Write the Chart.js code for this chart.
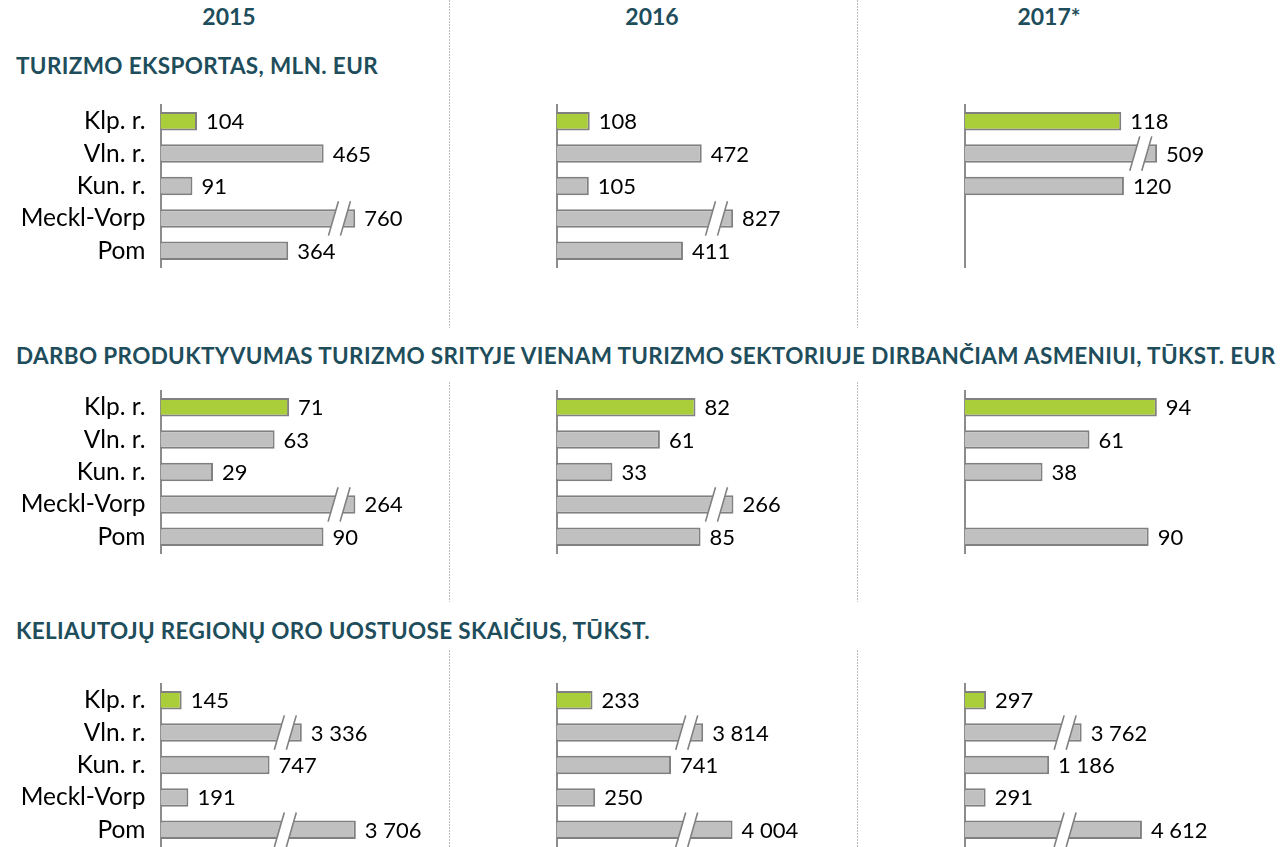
<!DOCTYPE html>
<html lang="lt">
<head>
<meta charset="utf-8">
<title>Turizmo rodikliai</title>
<script src="https://cdn.jsdelivr.net/npm/chart.js@4.4.1/dist/chart.umd.min.js"></script>
<style>
  html, body { margin: 0; background: #fff; }
  #page { position: relative; width: 1281px; height: 847px; overflow: hidden; font-family: Lato, "Open Sans", sans-serif; }
  .year, .title { position: absolute; color: #1e4d5b; font-weight: bold; white-space: nowrap; line-height: 1; }
  .year { font-size: 23px; transform: translateX(-50%); }
  .title { font-size: 22.5px; letter-spacing: 0.35px; left: 16px; }
  .sep { position: absolute; width: 1px; background: repeating-linear-gradient(to bottom, #bdbdbd 0 2px, transparent 2px 3px); }
  canvas { position: absolute; }
</style>
</head>
<body>
<div id="page"></div>
<script>
// regions and years
const regions = ['Klp. r.', 'Vln. r.', 'Kun. r.', 'Meckl-Vorp', 'Pom'];
const years = ['2015', '2016', '2017*'];
const sectionTitles = [
  'TURIZMO EKSPORTAS, MLN. EUR',
  'DARBO PRODUKTYVUMAS TURIZMO SRITYJE VIENAM TURIZMO SEKTORIUJE DIRBANČIAM ASMENIUI, TŪKST. EUR',
  'KELIAUTOJŲ REGIONŲ ORO UOSTUOSE SKAIČIUS, TŪKST.'
];

// tourism export, mln. EUR
const export2015 = [104, 465, 91, 760, 364];
const export2016 = [108, 472, 105, 827, 411];
const export2017 = [118, 509, 120, null, null];

// productivity per person employed in tourism, thous. EUR
const productivity2015 = [71, 63, 29, 264, 90];
const productivity2016 = [82, 61, 33, 266, 85];
const productivity2017 = [94, 61, 38, null, 90];

// airport passengers, thous.
const passengers2015 = [145, 3336, 747, 191, 3706];
const passengers2016 = [233, 3814, 741, 250, 4004];
const passengers2017 = [297, 3762, 1186, 291, 4612];

const sections = [
  [export2015, export2016, export2017],
  [productivity2015, productivity2016, productivity2017],
  [passengers2015, passengers2016, passengers2017]
];

// each panel has its own value axis; long bars are cut with a break
const axisMax = [[798, 910, 211.4], [154.6, 165.2, 137.2], [1918, 1811.6, 3948]];
const axisBreaks = [
  [{from: 510, to: 715}, {from: 520, to: 773}, {from: 132.7, to: 496.7}],
  [{from: 98.6, to: 255}, {from: 94.4, to: 256}, null],
  [{from: 855, to: 3223}, {from: 842.5, to: 3707.5}, {from: 1412, to: 3529}]
];

// layout
const colLeft = [0, 449, 857];
const colWidth = [449, 408, 424];
const axisX = [160.5, 556.5, 965];
const areaTop = [105, 391, 683.5];
const yearX = [229, 652, 1049];
const titleTop = [55, 345, 620];
const sepSpans = [[0, 328], [382, 602], [650, 847]];
const AREA_W = 280, AREA_H = 162, PAD = 12;

const GREEN = '#aacd3a', GREY = '#c0c0c0', EDGE = '#808080', AXIS = '#8c8c8c';
const FONT = 'Lato';

// linear scale with a gap: values between from..to collapse to one point
class BrokenScale extends Chart.LinearScale {
  getPixelForValue(value) {
    const b = this.options.breakAt;
    let v = value;
    if (b && v > b.from) v = v >= b.to ? b.from + (v - b.to) : b.from;
    return super.getPixelForValue(v);
  }
}
BrokenScale.id = 'broken';
BrokenScale.defaults = Chart.LinearScale.defaults;
Chart.register(BrokenScale);

const fmt = v => String(v).replace(/\B(?=(\d{3})+(?!\d))/g, ' ');

const barMarks = {
  id: 'barMarks',
  afterDatasetsDraw(chart) {
    const ctx = chart.ctx;
    const xs = chart.scales.x;
    const brk = xs.options.breakAt;
    const values = chart.data.datasets[0].data;
    chart.getDatasetMeta(0).data.forEach((bar, i) => {
      const v = values[i];
      if (v == null) return;
      ctx.save();
      if (brk && v > brk.to) {
        const bx = xs.getPixelForValue(brk.from);
        const top = bar.y - bar.height / 2 - 8;
        const bottom = bar.y + bar.height / 2 + 8;
        const half = 6, lean = 5;
        ctx.beginPath();
        ctx.moveTo(bx - half - lean, bottom);
        ctx.lineTo(bx - half + lean, top);
        ctx.lineTo(bx + half + lean, top);
        ctx.lineTo(bx + half - lean, bottom);
        ctx.closePath();
        ctx.fillStyle = '#fff';
        ctx.fill();
        ctx.beginPath();
        ctx.moveTo(bx - half - lean, bottom);
        ctx.lineTo(bx - half + lean, top);
        ctx.moveTo(bx + half - lean, bottom);
        ctx.lineTo(bx + half + lean, top);
        ctx.strokeStyle = EDGE;
        ctx.lineWidth = 1.6;
        ctx.stroke();
      }
      ctx.fillStyle = '#000';
      ctx.font = '22px ' + FONT;
      ctx.textBaseline = 'middle';
      ctx.textAlign = 'left';
      ctx.fillText(fmt(v), bar.x + 9, bar.y + 1);
      ctx.restore();
    });
  }
};

const page = document.getElementById('page');

years.forEach((y, c) => {
  const d = document.createElement('div');
  d.className = 'year';
  d.style.left = yearX[c] + 'px';
  d.style.top = '5px';
  d.textContent = y;
  page.appendChild(d);
});

sectionTitles.forEach((t, r) => {
  const d = document.createElement('div');
  d.className = 'title';
  d.style.top = titleTop[r] + 'px';
  d.textContent = t;
  page.appendChild(d);
});

[449, 857].forEach(x => {
  sepSpans.forEach(([a, b]) => {
    const s = document.createElement('div');
    s.className = 'sep';
    s.style.left = x + 'px';
    s.style.top = a + 'px';
    s.style.height = (b - a) + 'px';
    page.appendChild(s);
  });
});

sections.forEach((panels, r) => {
  panels.forEach((values, c) => {
    const cv = document.createElement('canvas');
    const h = AREA_H + 2 * PAD;
    cv.width = colWidth[c];
    cv.height = h;
    cv.style.left = colLeft[c] + 'px';
    cv.style.top = (areaTop[r] - PAD) + 'px';
    page.appendChild(cv);
    const yWidth = axisX[c] - colLeft[c];

    new Chart(cv, {
      type: 'bar',
      data: {
        labels: regions,
        datasets: [{
          data: values,
          backgroundColor: values.map((v, i) => i === 0 ? GREEN : GREY),
          borderColor: EDGE,
          borderWidth: 2,
          barPercentage: 0.57,
          categoryPercentage: 1
        }]
      },
      options: {
        indexAxis: 'y',
        responsive: false,
        animation: false,
        devicePixelRatio: 1,
        layout: { padding: { top: PAD, bottom: PAD, left: 0, right: colWidth[c] - yWidth - AREA_W } },
        plugins: { legend: { display: false }, tooltip: { enabled: false } },
        scales: {
          x: { type: 'broken', display: false, min: 0, max: axisMax[r][c], breakAt: axisBreaks[r][c] },
          y: {
            grid: { display: false, drawTicks: false },
            border: { display: true, color: AXIS, width: 2 },
            ticks: { display: c === 0, padding: 15, color: '#000', font: { family: FONT, size: 24.5 } },
            afterFit(scale) {
              scale.width = yWidth;
              scale.paddingTop = 0;
              scale.paddingBottom = 0;
            }
          }
        }
      },
      plugins: [barMarks]
    });
  });
});
</script>
</body>
</html>
